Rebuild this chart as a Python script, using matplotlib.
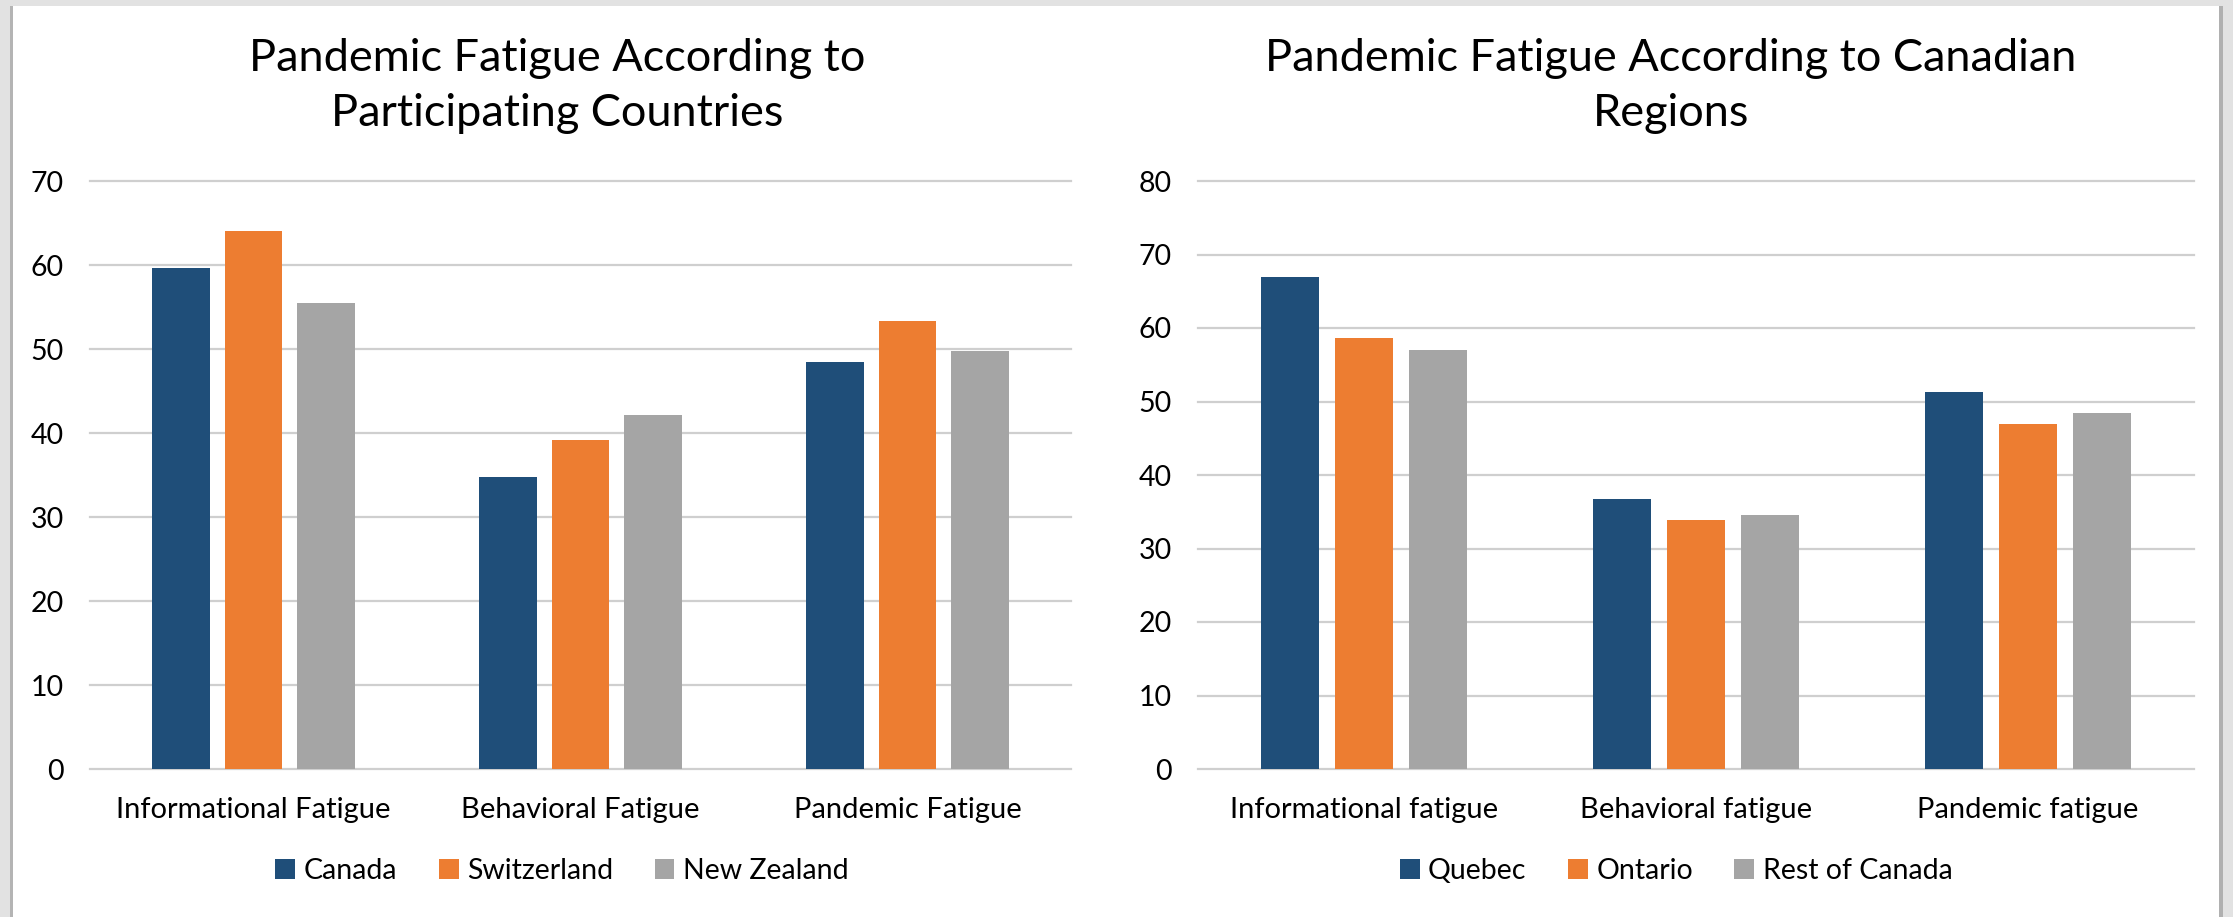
import matplotlib
matplotlib.use("Agg")
import matplotlib.pyplot as plt
import numpy as np
from matplotlib.patches import Rectangle

plt.rcParams['font.family'] = ['Lato', 'DejaVu Sans']

# Data
fatigue_left = ["Informational Fatigue", "Behavioral Fatigue", "Pandemic Fatigue"]
countries = ["Canada", "Switzerland", "New Zealand"]
canada = [59.7, 34.8, 48.4]
switzerland = [64.0, 39.2, 53.3]
new_zealand = [55.5, 42.2, 49.8]

fatigue_right = ["Informational fatigue", "Behavioral fatigue", "Pandemic fatigue"]
regions = ["Quebec", "Ontario", "Rest of Canada"]
quebec = [67.0, 36.8, 51.3]
ontario = [58.6, 33.9, 47.0]
rest_of_canada = [57.0, 34.6, 48.5]

colors = ["#1f4e79", "#ed7d31", "#a5a5a5"]
text_color = "#000000"

W, H = 2233, 917
fig = plt.figure(figsize=(W / 100, H / 100), dpi=100)
fig.patch.set_facecolor("#e2e2e2")

# page background with soft edges
fig.add_artist(Rectangle((10 / W, 0), 3 / W, (H - 6) / H, transform=fig.transFigure,
                         facecolor="#b4b4b4", edgecolor="none", zorder=0))
fig.add_artist(Rectangle((2219 / W, 0), 4 / W, (H - 6) / H, transform=fig.transFigure,
                         facecolor="#b0b0b0", edgecolor="none", zorder=0))
fig.add_artist(Rectangle((13 / W, 0), (2219 - 13) / W, (H - 6) / H, transform=fig.transFigure,
                         facecolor="white", edgecolor="none", zorder=0))


def px_rect(x0, x1, y_top, y_bot):
    return [x0 / W, (H - y_bot) / H, (x1 - x0) / W, (y_bot - y_top) / H]


def draw_panel(rect, cats, names, series, ymax, title, title_x, legend_x):
    ax = fig.add_axes(rect)
    ax.set_facecolor("none")
    x = np.arange(len(cats))
    width = 0.175
    step = 0.222
    bars = []
    for i, (vals, c) in enumerate(zip(series, colors)):
        b = ax.bar(x + (i - 1) * step, vals, width=width, color=c, zorder=3, label=names[i])
        bars.append(b)
    ax.set_xlim(-0.5, len(cats) - 0.5)
    ax.set_ylim(0, ymax)
    ax.set_yticks(np.arange(0, ymax + 1, 10))
    ax.yaxis.grid(True, color="#cfcfcf", linewidth=1.6, zorder=0)
    for gl in ax.get_ygridlines():
        gl.set_clip_on(False)
    ax.set_axisbelow(True)
    for s in ax.spines.values():
        s.set_visible(False)
    ax.set_xticks(x)
    ax.set_xticklabels(cats, fontsize=21, color=text_color)
    ax.tick_params(axis="x", length=0, pad=20)
    ax.tick_params(axis="y", length=0, pad=19, labelsize=20.5, labelcolor=text_color)

    fig.text(title_x / W, 1 - 86 / H, title, ha="center", va="center",
             fontsize=32.5, color=text_color, linespacing=1.45)

    fig.legend(handles=bars, labels=names, loc="center", ncol=3,
               bbox_to_anchor=(legend_x / W, 1 - 871 / H), frameon=False,
               fontsize=20.5, handlelength=0.7, handleheight=0.7,
               handletextpad=0.3, columnspacing=1.45, labelcolor=text_color)
    return ax


draw_panel(px_rect(90, 1071, 181, 769), fatigue_left, countries,
           [canada, switzerland, new_zealand], 70,
           "Pandemic Fatigue According to\nParticipating Countries", 557, 562)

draw_panel(px_rect(1198, 2194, 181, 769), fatigue_right, regions,
           [quebec, ontario, rest_of_canada], 80,
           "Pandemic Fatigue According to Canadian\nRegions", 1671, 1676)

fig.savefig("out.png", dpi=100, facecolor=fig.get_facecolor())
